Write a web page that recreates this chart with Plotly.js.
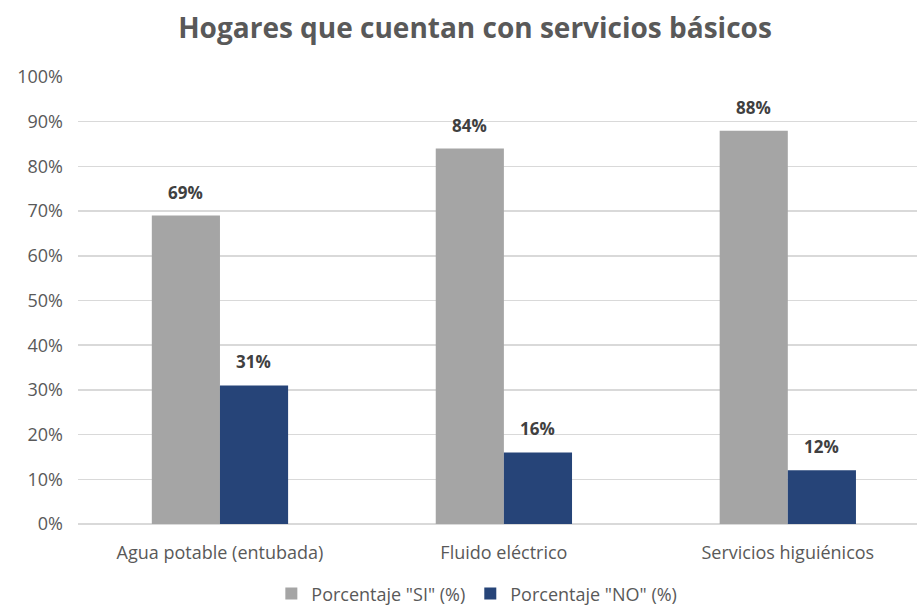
<!DOCTYPE html>
<html><head><meta charset="utf-8">
<script src="https://cdn.plot.ly/plotly-3.0.1.min.js"></script>
<style>html,body{margin:0;padding:0;background:#fff}#c{width:917px;height:606px}</style>
</head><body><div id="c"></div>
<script>
const categories = ["Agua potable (entubada)", "Fluido eléctrico", "Servicios higuiénicos"];
const seriesSI = [69, 84, 88];
const seriesNO = [31, 16, 12];
const seriesNames = ['Porcentaje "SI" (%)', 'Porcentaje "NO" (%)'];
const yTicks = [0,10,20,30,40,50,60,70,80,90,100];
const yTickLabels = yTicks.map(v => v + "%");

const FONT = "Open Sans, sans-serif";
const traces = [
  {type: "bar", x: categories, y: seriesSI, name: seriesNames[0],
   marker: {color: "#A5A5A5"}, hoverinfo: "none"},
  {type: "bar", x: categories, y: seriesNO, name: seriesNames[1],
   marker: {color: "#264478"}, hoverinfo: "none"}
];
const annotations = [];
[[seriesSI, -34], [seriesNO, 34]].forEach(([vals, dx]) => {
  vals.forEach((v, i) => annotations.push({
    x: categories[i], y: v, xref: "x", yref: "y", text: "<b>" + v + "%</b>",
    showarrow: false, xshift: dx, yshift: 10, yanchor: "bottom",
    font: {family: FONT, size: 17, color: "#404040"}
  }));
});
const layout = {
  width: 917, height: 606,
  margin: {l: 78, r: 0, t: 77, b: 82},
  paper_bgcolor: "#fff", plot_bgcolor: "#fff",
  title: {text: "<b>Hogares que cuentan con servicios básicos</b>", x: 0.518, xanchor: "center", y: 0.953, yanchor: "middle",
          font: {family: FONT, size: 28, color: "#595959"}},
  barmode: "group", bargap: 0.52, bargroupgap: 0,
  showlegend: true,
  legend: {orientation: "h", x: 0.52, xanchor: "center", xref: "container", yref: "container", y: 0.02, yanchor: "middle",
           font: {family: FONT, size: 18, color: "#595959"}, traceorder: "normal", itemwidth: 20},
  annotations: annotations,
  xaxis: {range: [-0.5, 2.455], showgrid: false, showline: false, zeroline: false, ticks: "",
          tickfont: {family: FONT, size: 18, color: "#595959"}, ticklabelstandoff: 16},
  yaxis: {range: [0, 100], tickvals: yTicks, ticktext: yTickLabels, showgrid: true, gridcolor: "#D9D9D9",
          gridwidth: 1.5, zeroline: true, zerolinecolor: "#D9D9D9", zerolinewidth: 1.5, ticks: "",
          tickfont: {family: FONT, size: 18, color: "#595959"}, ticklabelstandoff: 14}
};
Plotly.newPlot("c", traces, layout, {displayModeBar: false, staticPlot: true});
</script></body></html>
